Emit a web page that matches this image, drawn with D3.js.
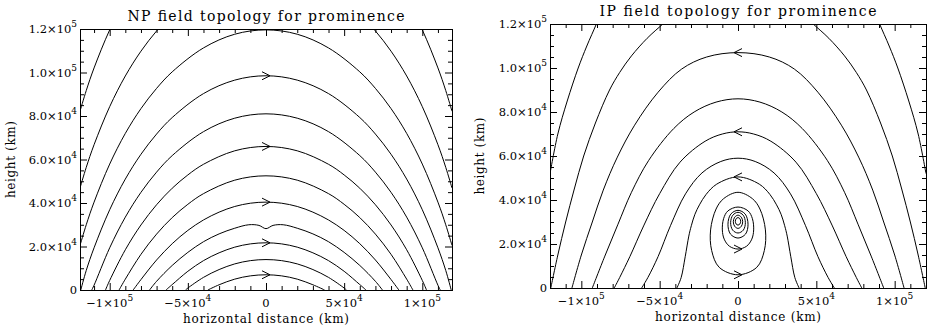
<!DOCTYPE html>
<html>
<head>
<meta charset="utf-8">
<script src="https://cdn.jsdelivr.net/npm/d3@7"></script>
<style>
body { margin: 0; background: #fff; }
text { font-family: "DejaVu Serif", serif; fill: #000; }
</style>
</head>
<body>
<script>
// field lines, units of 1000 km : [horizontal, height]

// NP panel
var npLines = [
	[[-37.2,0],[-30,2.4],[-20,5.0],[-10,6.5],[0,7.0],[10,6.5],[20,5.0],[30,2.4],[37.5,0]],
	[[-51.5,0],[-50,0.9],[-40,5.8],[-30,9.4],[-20,12.0],[-10,13.5],[0,14.0],[10,13.5],[20,12.0],[30,9.4],[40,5.8],[50,0.9],[51.5,0]],
	[[-64,0],[-60,2.5],[-50,8.6],[-40,13.5],[-30,17.1],[-20,19.7],[-10,21.2],[0,21.7],[10,21.2],[20,19.7],[30,17.1],[40,13.5],[50,8.6],[60,2.5],[64,0]],
	[[-74.5,0],[-70,4.0],[-60,11.3],[-50,17.3],[-40,22.2],[-30,25.8],[-20,28.4],[-11,30.0],[-4.5,29.7],[0,28.2],[4.5,29.7],[11,30.0],[20,28.4],[30,25.8],[40,22.2],[50,17.3],[60,11.3],[70,4.0],[74.5,0]],
	[[-85,0],[-80,4.8],[-70,13.8],[-60,21.3],[-50,27.4],[-40,32.2],[-30,35.8],[-20,38.4],[-10,39.9],[0,40.4],[10,39.9],[20,38.4],[30,35.8],[40,32.2],[50,27.4],[60,21.3],[70,13.8],[80,4.8],[85,0]],
	[[-94,0],[-90,5.0],[-80,16.4],[-70,25.7],[-60,33.3],[-50,39.4],[-40,44.3],[-20,50.5],[0,52.5],[20,50.5],[40,44.3],[50,39.4],[60,33.3],[70,25.7],[80,16.4],[90,5.0],[94,0]],
	[[-102.7,0],[-100,4.4],[-90,18.5],[-80,29.9],[-70,39.2],[-60,46.8],[-50,52.9],[-40,57.8],[-20,64.0],[0,66.0],[20,64.0],[40,57.8],[50,52.9],[60,46.8],[70,39.2],[80,29.9],[90,18.5],[100,4.4],[102.7,0]],
	[[-111.5,0],[-110,2.2],[-100,19.4],[-90,33.5],[-80,44.9],[-70,54.2],[-60,61.8],[-40,72.8],[-20,79.0],[0,81.0],[20,79.0],[40,72.8],[60,61.8],[70,54.2],[80,44.9],[90,33.5],[100,19.4],[110,2.2],[111.5,0]],
	[[-118.5,0],[-115,9.0],[-110,19.4],[-100,36.9],[-90,51.0],[-80,62.4],[-70,71.7],[-60,79.3],[-40,90.3],[-20,96.5],[0,98.5],[20,96.5],[40,90.3],[60,79.3],[70,71.7],[80,62.4],[90,51.0],[100,36.9],[110,19.4],[115,9.0],[118.5,0]],
	[[-119,20.5],[-115,30.0],[-110,40.4],[-100,57.9],[-90,72.0],[-80,83.4],[-70,92.7],[-60,100.3],[-40,111.3],[-20,117.6],[0,119.6],[20,117.6],[40,111.3],[60,100.3],[70,92.7],[80,83.4],[90,72.0],[100,57.9],[110,40.4],[115,30.0],[119,20.5]],
	[[-119,46.9],[-115,56.4],[-110,66.8],[-100,84.3],[-90,98.4],[-80,109.8],[-70,119.1],[-60,126.7],[-40,137.7],[0,145.9],[40,137.7],[60,126.7],[70,119.1],[80,109.8],[90,98.4],[100,84.3],[110,66.8],[115,56.4],[119,46.9]],
	[[-119,82.2],[-115,91.7],[-110,102.1],[-100,119.6],[-90,133.7],[-60,162.0],[0,181.2],[60,162.0],[90,133.7],[100,119.6],[110,102.1],[115,91.7],[119,82.2]]
];
var npArrowsRight = [[0,7.0],[0,21.7],[0,40.4],[0,66.0],[0,98.5]];
var npArrowsLeft = [];
var npLoops = [];

// IP panel
var ipLines = [
	[[-120,52],[-115,70],[-109,85],[-102,100],[-96.5,110],[-90.4,120],[-87,126]],
	[[120,52],[115,70],[109,85],[102,100],[96.5,110],[90.4,120],[87,126]],
	[[-119.5,0],[-115,15],[-110,30],[-104.5,45],[-98.5,60],[-91,75],[-82,90],[-75.5,98],[-68,105.5],[-58,113.5],[-48,120],[-42,124]],
	[[119.5,0],[115,15],[110,30],[104.5,45],[98.5,60],[91,75],[82,90],[75.5,98],[68,105.5],[58,113.5],[48,120],[42,124]],
	[[-106,0],[-100,15],[-93,30],[-86,44.5],[-77,59.5],[-66,74],[-51,89],[-36,99.5],[-20,105],[0,107],[20,105],[36,99.5],[51,89],[66,74],[77,59.5],[86,44.5],[93,30],[100,15],[106,0]],
	[[-93,0],[-85,14.5],[-76.6,29],[-68,43.5],[-57,58],[-41,72.5],[-28,80],[-14,84.5],[0,86],[14,84.5],[28,80],[41,72.5],[57,58],[68,43.5],[76.6,29],[85,14.5],[93,0]],
	[[-79,0],[-75.5,4.8],[-69,14.3],[-60,28.6],[-50,42.9],[-37,57.2],[-21,66.7],[-10,70],[0,71],[10,70],[21,66.7],[37,57.2],[50,42.9],[60,28.6],[69,14.3],[75.5,4.8],[79,0]],
	[[-61.5,0],[-57.5,4.8],[-51,14.3],[-43,28.5],[-33.5,42.8],[-23,52.3],[-11,57.5],[0,59],[11,57.5],[23,52.3],[33.5,42.8],[43,28.5],[51,14.3],[57.5,4.8],[61.5,0]],
	[[-39,0],[-36.3,4.7],[-33.7,14.2],[-31.4,23.6],[-29.8,28.3],[-27.5,33.5],[-24.6,37.8],[-20.4,42.5],[-13.6,47.2],[0,50.5],[13.6,47.2],[20.4,42.5],[24.6,37.8],[27.5,33.5],[29.8,28.3],[31.4,23.6],[33.7,14.2],[36.3,4.7],[39,0]]
];
var ipLoops = [
	[[0,6],[12,9.4],[16.8,17],[17.5,26.4],[14,35.9],[9.2,40.6],[0,43.5],[-9.2,40.6],[-14,35.9],[-17.5,26.4],[-16.8,17],[-12,9.4]],
	[[0,17.7],[5.5,19],[8.8,22.2],[10,26.4],[9.2,31.5],[6.5,35],[0,36.8],[-6.5,35],[-9.2,31.5],[-10,26.4],[-8.8,22.2],[-5.5,19]],
	[[0,22.7],[4.8,24.5],[6.4,29],[4.6,33.6],[0,35.3],[-4.6,33.6],[-6.4,29],[-4.8,24.5]],
	[[0,25],[3.4,26.3],[4.7,29.7],[3.3,33.1],[0,34.4],[-3.3,33.1],[-4.7,29.7],[-3.4,26.3]],
	[[0,27.1],[2.1,28],[3,30.1],[2.1,32.2],[0,33.1],[-2.1,32.2],[-3,30.1],[-2.1,28]],
	[[0,28.6],[1.2,29.1],[1.7,30.3],[1.2,31.5],[0,32],[-1.2,31.5],[-1.7,30.3],[-1.2,29.1]]
];
var ipArrowsLeft = [[0,107],[0,71],[0,50.5]];
var ipArrowsRight = [[0,6],[0,17.7]];

// axes
var xTicks = [-100,-50,0,50,100];
var xTickLabels = [["\u22121\u00d710","5"],["\u22125\u00d710","4"],["0",""],["5\u00d710","4"],["1\u00d710","5"]];
var yTicks = [0,20,40,60,80,100,120];
var yTickLabels = [["0",""],["2.0\u00d710","4"],["4.0\u00d710","4"],["6.0\u00d710","4"],["8.0\u00d710","4"],["1.0\u00d710","5"],["1.2\u00d710","5"]];
var xMinor = d3.range(-110, 111, 10).filter(function(v){ return v % 50 != 0; });
var yMinor = d3.range(5, 120, 5).filter(function(v){ return v % 20 != 0; });

var titles = ["NP field topology for prominence", "IP field topology for prominence"];
var xTitle = "horizontal distance (km)";
var yTitle = "height (km)";

var width = 929;
var height = 332;

var svg = d3.select("body").append("svg")
			.attr("width", width)
			.attr("height", height);

var panels = [
	{id: 0, left: 80, right: 452, top: 29, bottom: 290, xmax: 119, ylab: 15,
		lines: npLines, loops: npLoops, arR: npArrowsRight, arL: npArrowsLeft},
	{id: 1, left: 550, right: 926, top: 24, bottom: 288, xmax: 120, ylab: 484,
		lines: ipLines, loops: ipLoops, arR: ipArrowsRight, arL: ipArrowsLeft}
];

panels.forEach(function(p){
	var x = d3.scaleLinear().domain([-p.xmax, p.xmax]).range([p.left, p.right]);
	var y = d3.scaleLinear().domain([0, 120]).range([p.bottom, p.top]);
	var g = svg.append("g");

	g.append("clipPath").attr("id", "clip" + p.id)
		.append("rect")
		.attr("x", p.left).attr("y", p.top)
		.attr("width", p.right - p.left).attr("height", p.bottom - p.top);

	var line = d3.line()
		.x(function(d){ return x(d[0]); })
		.y(function(d){ return y(d[1]); })
		.curve(d3.curveCatmullRom);
	var loop = d3.line()
		.x(function(d){ return x(d[0]); })
		.y(function(d){ return y(d[1]); })
		.curve(d3.curveCatmullRomClosed);

	var field = g.append("g").attr("clip-path", "url(#clip" + p.id + ")")
		.style("fill", "none").style("stroke", "#000").style("stroke-width", 1);

	field.selectAll("path.fl")
		.data(p.lines)
		.enter()
		.append("path")
		.attr("class", "fl")
		.attr("d", line);

	field.selectAll("path.lp")
		.data(p.loops)
		.enter()
		.append("path")
		.attr("class", "lp")
		.attr("d", loop);

	// chevrons on the lines
	field.selectAll("path.ar")
		.data(p.arR)
		.enter()
		.append("path")
		.attr("class", "ar")
		.attr("transform", function(d){ return "translate(" + x(d[0]) + "," + y(d[1]) + ")"; })
		.attr("d", "M-4,-4L4,0L-4,4");
	field.selectAll("path.al")
		.data(p.arL)
		.enter()
		.append("path")
		.attr("class", "al")
		.attr("transform", function(d){ return "translate(" + x(d[0]) + "," + y(d[1]) + ")"; })
		.attr("d", "M4,-4L-4,0L4,4");

	// box with inward ticks on all four sides
	var ax = g.append("g").style("color", "#000");
	ax.append("g").attr("transform", "translate(0," + p.bottom + ")")
		.call(d3.axisBottom(x).tickValues(xTicks).tickSize(-7).tickSizeOuter(0).tickFormat(""));
	ax.append("g").attr("transform", "translate(0," + p.bottom + ")")
		.call(d3.axisBottom(x).tickValues(xMinor).tickSize(-4).tickSizeOuter(0).tickFormat(""));
	ax.append("g").attr("transform", "translate(0," + p.top + ")")
		.call(d3.axisTop(x).tickValues(xTicks).tickSize(-7).tickSizeOuter(0).tickFormat(""));
	ax.append("g").attr("transform", "translate(0," + p.top + ")")
		.call(d3.axisTop(x).tickValues(xMinor).tickSize(-4).tickSizeOuter(0).tickFormat(""));
	ax.append("g").attr("transform", "translate(" + p.left + ",0)")
		.call(d3.axisLeft(y).tickValues(yTicks).tickSize(-7).tickSizeOuter(0).tickFormat(""));
	ax.append("g").attr("transform", "translate(" + p.left + ",0)")
		.call(d3.axisLeft(y).tickValues(yMinor).tickSize(-4).tickSizeOuter(0).tickFormat(""));
	ax.append("g").attr("transform", "translate(" + p.right + ",0)")
		.call(d3.axisRight(y).tickValues(yTicks).tickSize(-7).tickSizeOuter(0).tickFormat(""));
	ax.append("g").attr("transform", "translate(" + p.right + ",0)")
		.call(d3.axisRight(y).tickValues(yMinor).tickSize(-4).tickSizeOuter(0).tickFormat(""));
	ax.selectAll(".domain").remove();

	g.append("rect")
		.attr("x", p.left + 0.5).attr("y", p.top + 0.5)
		.attr("width", p.right - p.left).attr("height", p.bottom - p.top)
		.style("fill", "none").style("stroke", "#000");

	// tick labels with superscript exponents
	var xl = g.selectAll("text.xl")
		.data(xTicks)
		.enter()
		.append("text")
		.attr("class", "xl")
		.attr("x", function(d){ return x(d); })
		.attr("y", p.bottom + 16.5)
		.attr("text-anchor", "middle")
		.style("font-size", "11.5px");
	xl.append("tspan").text(function(d, i){ return xTickLabels[i][0]; });
	xl.append("tspan").attr("dy", -6).style("font-size", "9px").text(function(d, i){ return xTickLabels[i][1]; });

	var yl = g.selectAll("text.yl")
		.data(yTicks)
		.enter()
		.append("text")
		.attr("class", "yl")
		.attr("x", p.left - 3)
		.attr("y", function(d){ return y(d) + 4; })
		.attr("text-anchor", "end")
		.style("font-size", "11.5px");
	yl.append("tspan").text(function(d, i){ return yTickLabels[i][0]; });
	yl.append("tspan").attr("dy", -6).style("font-size", "9px").text(function(d, i){ return yTickLabels[i][1]; });

	// titles
	var cx = (p.left + p.right) / 2;
	g.append("text")
		.attr("x", cx).attr("y", p.top - 8)
		.attr("text-anchor", "middle")
		.attr("textLength", 277)
		.style("font-size", "14px")
		.text(titles[p.id]);
	g.append("text")
		.attr("x", cx).attr("y", p.bottom + 32.5)
		.attr("text-anchor", "middle")
		.attr("textLength", 166)
		.style("font-size", "12px")
		.text(xTitle);
	g.append("text")
		.attr("transform", "translate(" + p.ylab + "," + ((p.top + p.bottom) / 2) + ") rotate(-90)")
		.attr("text-anchor", "middle")
		.attr("textLength", 77)
		.style("font-size", "12px")
		.text(yTitle);
});
</script>
</body>
</html>
